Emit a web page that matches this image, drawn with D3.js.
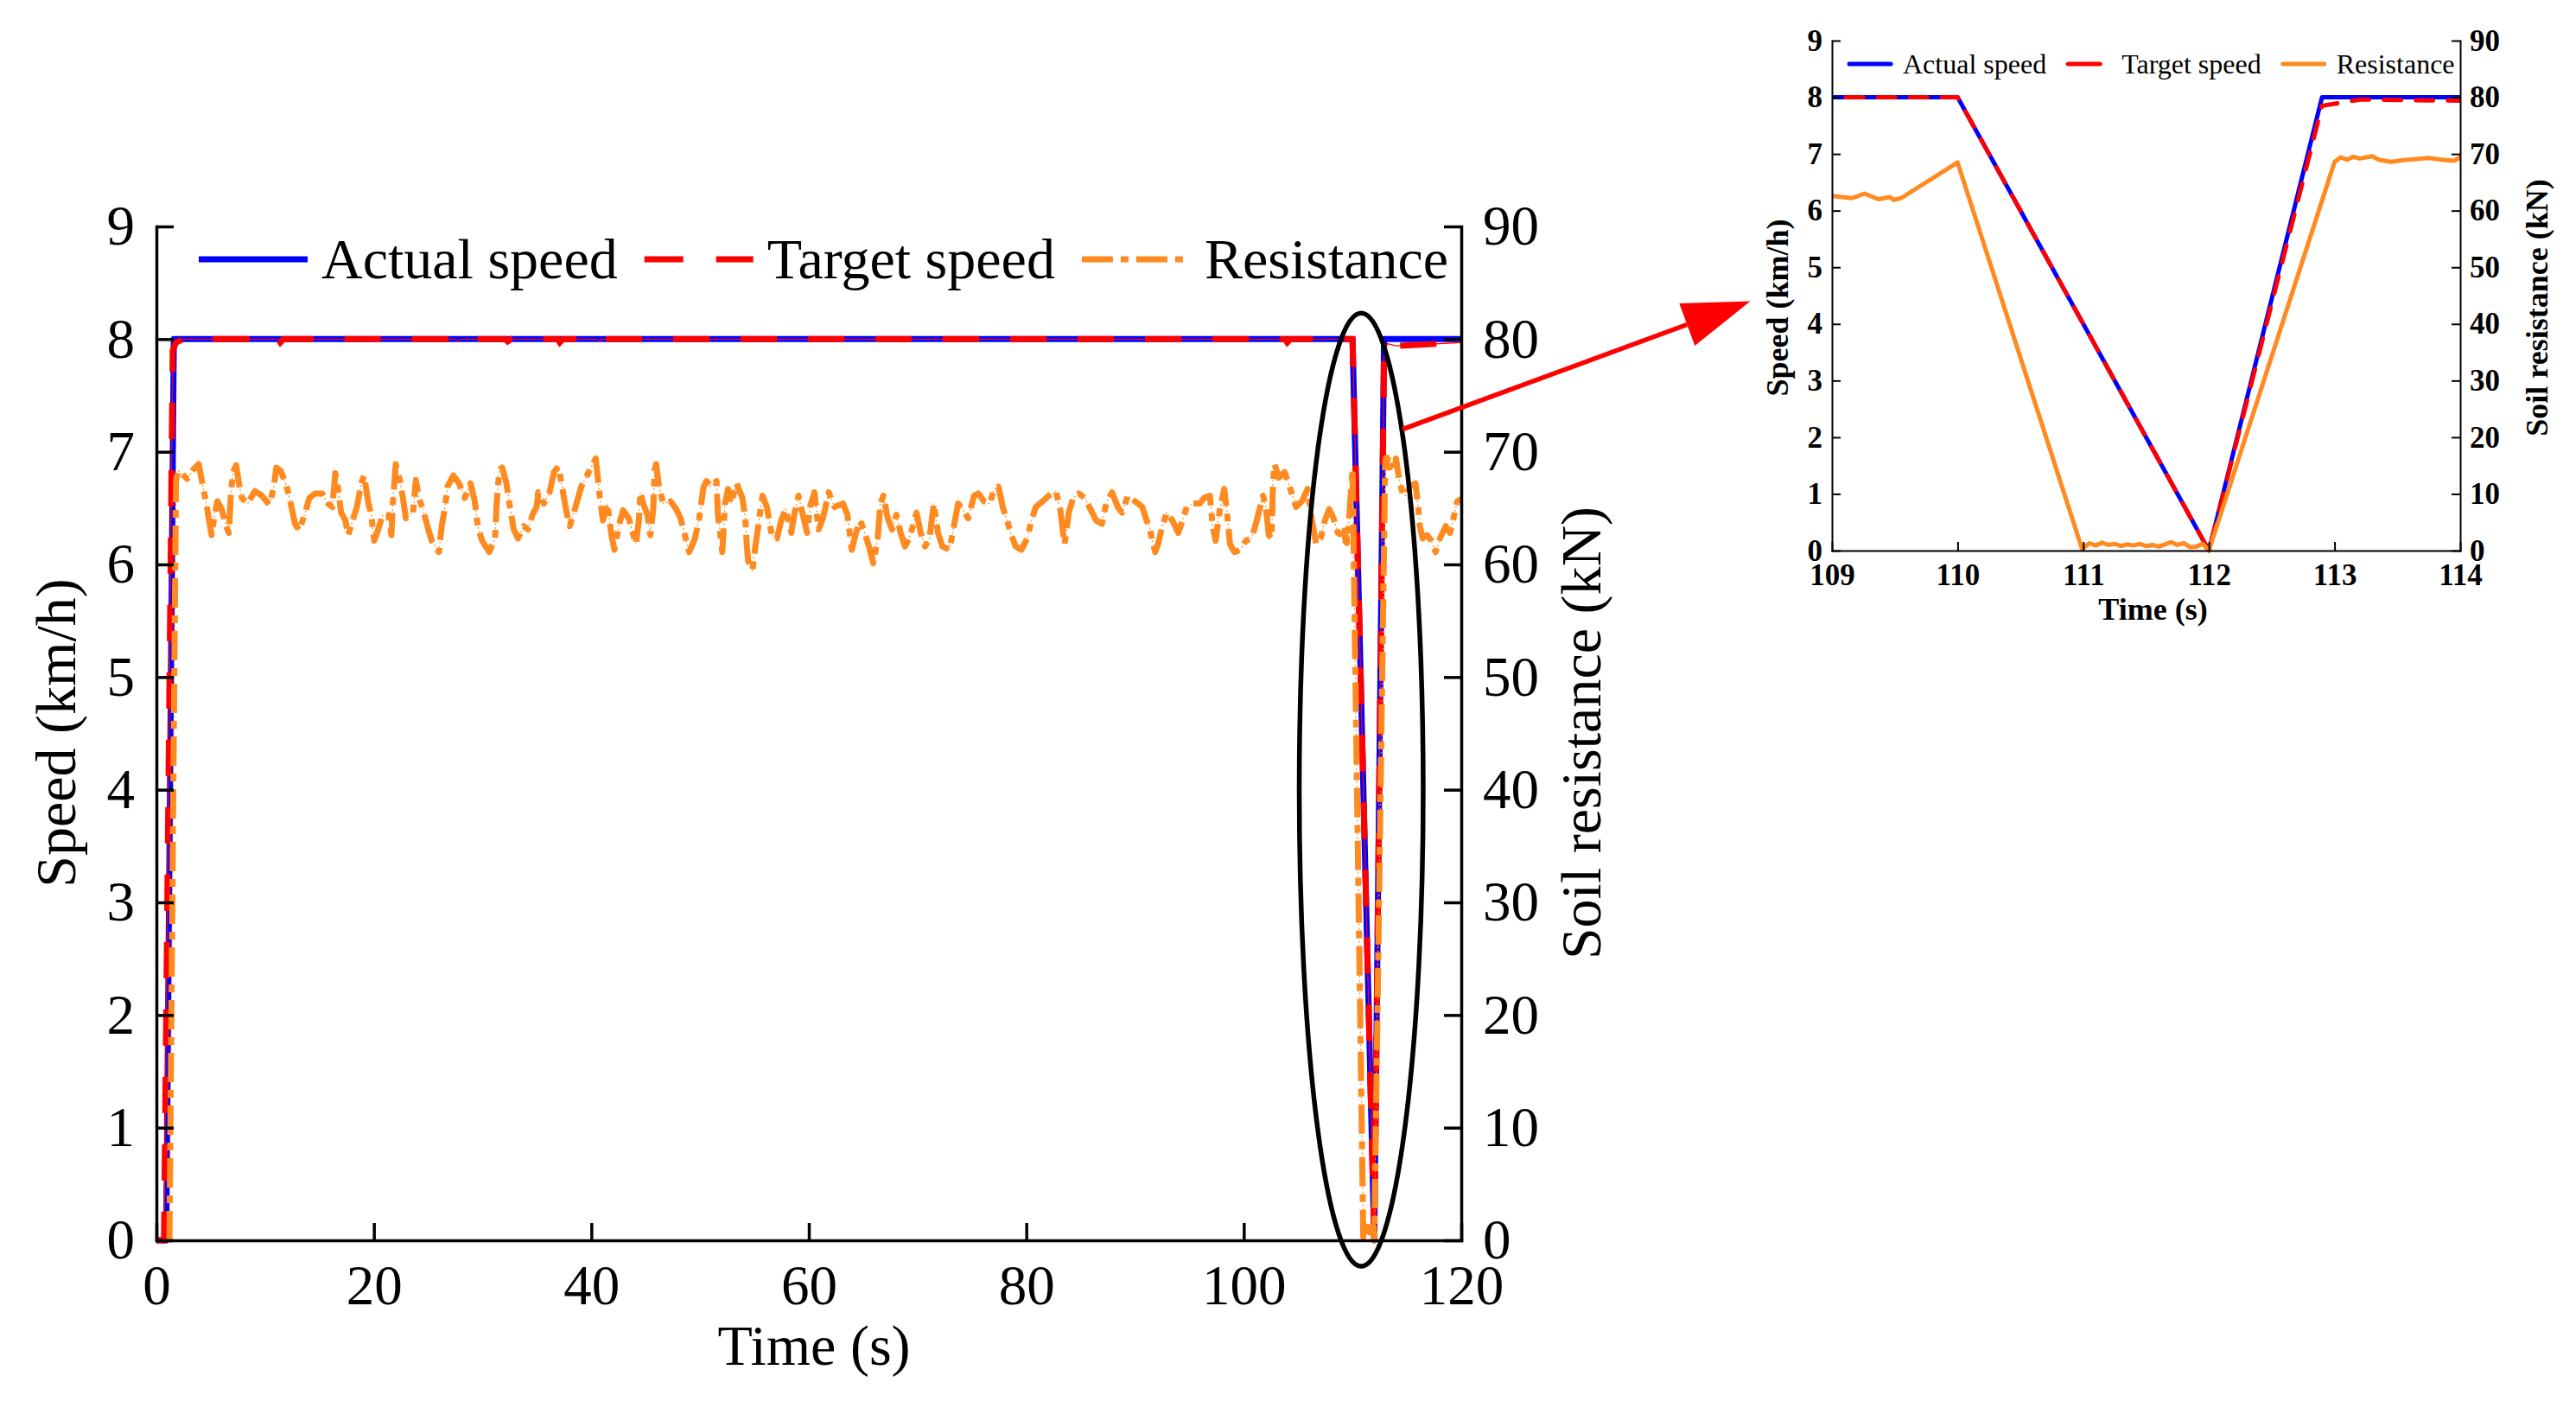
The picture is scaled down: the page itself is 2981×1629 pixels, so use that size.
<!DOCTYPE html>
<html>
<head>
<meta charset="utf-8">
<script src="https://cdn.jsdelivr.net/npm/d3@7"></script>
<style>
  body { margin: 0; background: #fff; }
  svg { display: block; }
  text { font-family: "Liberation Serif", "Times New Roman", serif; fill: #000; }
</style>
</head>
<body>
<svg id="chart"></svg>
<script>
// --- data: [time (s), value] ---
const actualSpeed = [
  [0, 0], [0.9, 0], [1.6, 8], [110, 8], [111.97, 0.12], [112, 0], [112.9, 8], [120, 8]
];

const targetSpeed = [
  [0, 0], [0.7, 0], [1.5, 7.9], [1.8, 7.97], [2.5, 8], [11.2, 8], [11.4, 7.97], [11.7, 8],
  [27.5, 8], [27.7, 7.98], [28, 8], [32.1, 8], [32.3, 7.98], [32.6, 8], [36.9, 8], [37.1, 7.97],
  [37.4, 8], [40.5, 8], [40.7, 7.98], [41, 8], [103.8, 8], [104, 7.97], [104.3, 8], [110, 8],
  [112, 0], [112.9, 7.85], [113.2, 7.96], [114, 7.94], [120, 7.97]
];

const resistance = [
  [1.2, 0], [1.8, 67.5], [2.04, 68.3], [2.83, 67.6], [3.36, 68.4], [3.89, 68.9], [4.29, 66.9], [4.55, 65.6],
  [4.81, 64.1], [5.08, 62.6], [5.34, 64.4], [5.61, 65.6], [6.0, 64.9], [6.4, 63.4], [6.67, 62.8], [6.85, 66.4],
  [7.06, 68.2], [7.33, 68.8], [7.59, 67.2], [7.86, 65.9], [8.39, 65.4], [9.05, 66.5], [9.71, 66.1], [10.37, 65.3],
  [10.77, 66.7], [11.03, 68.6], [11.43, 68.3], [11.96, 67.0], [12.35, 65.4], [12.75, 63.6], [13.15, 63.0], [13.68, 64.6],
  [14.07, 65.9], [14.6, 66.3], [15.26, 66.3], [15.79, 65.4], [16.19, 65.1], [16.45, 68.1], [16.72, 66.7], [16.98, 64.6],
  [17.38, 63.9], [17.64, 62.6], [18.04, 63.9], [18.44, 65.1], [18.84, 67.2], [19.1, 67.9], [19.5, 65.4], [19.76, 64.4],
  [20.03, 62.1], [20.29, 62.8], [20.82, 64.4], [21.35, 64.4], [21.61, 62.6], [21.74, 65.4], [22.01, 68.9], [22.41, 67.4],
  [22.67, 65.9], [22.94, 64.1], [23.33, 64.4], [23.6, 64.6], [23.86, 67.5], [24.13, 65.9], [24.52, 64.9], [24.92, 63.4],
  [25.32, 62.1], [25.98, 61.1], [26.24, 63.4], [26.51, 64.9], [26.77, 66.9], [27.3, 67.9], [27.83, 67.2], [28.36, 65.9],
  [28.89, 67.2], [29.28, 65.6], [29.55, 63.4], [29.95, 62.1], [30.61, 61.1], [31.14, 62.3], [31.27, 65.1], [31.53, 68.4],
  [31.8, 68.6], [32.19, 67.2], [32.46, 65.4], [32.86, 63.1], [33.25, 62.3], [33.78, 63.4], [34.18, 63.1], [34.58, 64.4],
  [34.97, 65.1], [35.11, 66.4], [35.63, 65.4], [36.16, 66.4], [36.56, 68.2], [36.96, 68.7], [37.35, 66.7], [37.62, 65.1],
  [38.01, 63.4], [38.54, 65.1], [39.07, 66.9], [39.6, 67.9], [40.13, 68.9], [40.4, 69.4], [40.79, 65.9], [41.06, 63.9],
  [41.46, 65.4], [41.85, 62.6], [42.12, 61.3], [42.52, 63.4], [42.91, 64.8], [43.44, 64.1], [44.1, 61.8], [44.37, 63.9],
  [44.5, 66.4], [44.77, 65.4], [45.16, 64.4], [45.43, 62.6], [45.69, 64.9], [45.82, 68.4], [45.96, 68.9], [46.22, 66.9],
  [46.62, 65.4], [47.28, 65.6], [47.81, 64.9], [48.2, 64.1], [48.6, 62.6], [49.0, 61.1], [49.53, 62.3], [49.92, 64.1],
  [50.32, 66.9], [50.59, 67.4], [50.98, 66.9], [51.51, 67.4], [51.64, 64.4], [51.91, 62.3], [52.04, 61.1], [52.3, 65.4],
  [52.57, 66.7], [52.83, 65.4], [53.36, 67.2], [53.89, 65.9], [54.16, 64.1], [54.29, 61.8], [54.42, 60.3], [54.82, 59.5],
  [55.08, 61.6], [55.35, 63.4], [55.74, 66.1], [56.14, 65.1], [56.4, 63.6], [56.67, 62.3], [57.07, 62.3], [57.46, 63.9],
  [57.86, 64.9], [58.39, 62.8], [58.65, 64.4], [59.05, 66.1], [59.45, 64.4], [59.84, 62.8], [60.11, 65.1], [60.51, 66.4],
  [60.9, 63.1], [61.3, 64.1], [61.83, 66.4], [62.36, 65.1], [63.15, 65.4], [63.55, 64.4], [63.95, 61.3], [64.34, 62.8],
  [64.74, 63.9], [65.14, 62.8], [65.53, 61.6], [65.93, 60.1], [66.33, 62.3], [66.59, 65.4], [66.86, 66.1], [67.25, 64.1],
  [67.65, 63.1], [68.05, 64.4], [68.44, 62.8], [68.84, 61.6], [69.24, 62.3], [69.63, 63.6], [69.9, 64.6], [70.29, 62.8],
  [70.69, 61.6], [71.09, 62.3], [71.49, 65.4], [71.88, 62.8], [72.28, 61.6], [72.94, 61.3], [73.34, 63.4], [73.73, 65.4],
  [74.13, 64.9], [74.66, 64.1], [75.19, 66.1], [75.59, 66.3], [76.11, 65.6], [76.64, 65.4], [77.04, 66.7], [77.44, 66.9],
  [77.83, 65.1], [78.23, 63.9], [78.63, 62.6], [79.02, 61.6], [79.55, 61.3], [80.08, 62.3], [80.48, 63.9], [80.87, 65.1],
  [81.5, 65.6], [82.06, 66.1], [82.72, 66.5], [83.12, 64.9], [83.38, 62.8], [83.52, 61.8], [83.91, 64.6], [84.31, 65.9],
  [84.84, 66.3], [85.37, 65.9], [85.9, 64.9], [86.43, 63.9], [86.95, 63.6], [87.35, 65.4], [87.88, 66.4], [88.41, 65.1],
  [88.81, 64.6], [89.34, 66.1], [90.0, 65.6], [90.66, 65.1], [91.06, 63.9], [91.32, 63.4], [91.58, 62.1], [91.85, 61.1],
  [92.11, 61.8], [92.51, 63.4], [92.91, 64.6], [93.44, 63.9], [93.97, 62.8], [94.36, 63.9], [94.76, 65.1], [95.29, 65.4],
  [95.95, 65.4], [96.35, 65.9], [96.88, 66.1], [97.14, 63.4], [97.41, 62.1], [97.8, 64.9], [98.2, 66.7], [98.46, 64.6],
  [98.73, 61.8], [99.13, 61.1], [99.66, 61.3], [100.18, 62.1], [100.71, 62.3], [101.11, 63.6], [101.77, 66.1], [102.03, 65.1],
  [102.3, 62.6], [102.56, 62.3], [102.69, 67.4], [102.83, 68.9], [103.22, 67.7], [103.75, 68.2], [104.28, 66.7], [104.81, 65.1],
  [105.34, 65.6], [105.87, 66.7], [106.27, 63.9], [106.66, 61.8], [107.06, 62.3], [107.46, 63.9], [107.85, 64.9], [108.25, 64.1],
  [108.65, 62.8], [109.0, 62.6], [109.16, 62.2], [109.26, 63.0], [109.37, 62.0], [109.46, 62.4], [109.49, 61.9], [109.55, 62.2],
  [110.0, 68.5], [110.99, 0.3], [111.05, 1.3], [111.1, 0.9], [111.15, 1.4], [111.2, 1.0], [111.25, 1.2], [111.3, 0.8],
  [111.35, 1.1], [111.4, 0.9], [111.45, 1.2], [111.5, 0.8], [111.55, 1.0], [111.6, 0.7], [111.65, 1.1], [111.7, 1.5],
  [111.75, 1.0], [111.8, 1.3], [111.85, 0.6], [111.9, 0.7], [111.95, 1.2], [112.0, 0.0], [113.0, 68.6], [113.05, 69.4],
  [113.1, 69.0], [113.15, 69.5], [113.2, 69.2], [113.3, 69.6], [113.35, 69.0], [113.45, 68.6], [113.55, 68.9], [113.65, 69.1],
  [113.75, 69.3], [113.85, 69.0], [113.95, 68.8], [114.0, 69.4], [114.3, 67.5], [114.6, 66.3], [114.87, 66.1], [115.26, 66.9],
  [115.79, 67.2], [116.06, 64.9], [116.19, 63.4], [116.45, 62.3], [116.85, 62.6], [117.25, 62.1], [117.64, 61.1], [118.04, 62.3],
  [118.57, 63.4], [118.97, 62.8], [119.36, 64.4], [119.63, 65.6], [120, 65.8]
];

const seriesNames = ["Actual speed", "Target speed", "Resistance"];
const seriesColors = ["#0000ff", "#ff0000", "#ff8a20"];

const mainTimeTicks = [0, 20, 40, 60, 80, 100, 120];
const insetTimeTicks = [109, 110, 111, 112, 113, 114];
const speedTicks = [0, 1, 2, 3, 4, 5, 6, 7, 8, 9];
const resistanceTicks = [0, 10, 20, 30, 40, 50, 60, 70, 80, 90];

// zoom marker: ellipse centre/radii in main-chart units, arrow ends
const zoomEllipse = { t: 110.8, v: 4.0, rt: 5.7, rv: 4.23 };
const arrowFrom = [114.6, 7.2];   // main chart (s, km/h)
const arrowTo = [108.35, 4.4];    // inset chart (s, km/h)

const W = 2981, H = 1629;
const FONT = '"Liberation Serif", "Times New Roman", serif';

const svg = d3.select("#chart").attr("width", W).attr("height", H);
svg.append("rect").attr("width", W).attr("height", H).attr("fill", "#fff");

function drawPanel(p) {
  const g = svg.append("g");
  const x = d3.scaleLinear().domain(p.xDomain).range([p.left, p.right]);
  const yL = d3.scaleLinear().domain([0, 9]).range([p.bottom, p.top]);
  const yR = d3.scaleLinear().domain([0, 90]).range([p.bottom, p.top]);
  const weight = p.bold ? "bold" : "normal";

  const clipId = "clip-" + p.id;
  g.append("clipPath").attr("id", clipId).append("rect")
    .attr("x", p.left).attr("y", p.top - 10)
    .attr("width", p.right - p.left).attr("height", p.bottom - p.top + 10 + p.lw);

  const plot = g.append("g").attr("clip-path", `url(#${clipId})`);
  const speedLine = d3.line().x(d => x(d[0])).y(d => yL(d[1]));
  const resLine = d3.line().x(d => x(d[0])).y(d => yR(d[1]));

  plot.append("path").attr("d", speedLine(actualSpeed))
    .attr("fill", "none").attr("stroke", seriesColors[0]).attr("stroke-width", p.lw)
    .attr("stroke-linejoin", "round");
  if (p.thin) {
    plot.append("path").attr("d", speedLine(targetSpeed))
      .attr("fill", "none").attr("stroke", seriesColors[1]).attr("stroke-width", 1.3);
  }
  plot.append("path").attr("d", speedLine(targetSpeed))
    .attr("fill", "none").attr("stroke", seriesColors[1]).attr("stroke-width", p.lw)
    .attr("stroke-dasharray", p.redDash).attr("stroke-linecap", p.cap);
  if (p.thin) {
    plot.append("path").attr("d", resLine(resistance))
      .attr("fill", "none").attr("stroke", seriesColors[2]).attr("stroke-width", 1.2)
      .attr("stroke-dasharray", "2,3");
  }
  plot.append("path").attr("d", resLine(resistance))
    .attr("fill", "none").attr("stroke", seriesColors[2]).attr("stroke-width", p.lw)
    .attr("stroke-dasharray", p.resDash).attr("stroke-linecap", p.cap)
    .attr("stroke-linejoin", "round");

  // axes, ticks pointing inward
  const styleAxis = (sel) => {
    sel.select(".domain").attr("stroke", "#000").attr("stroke-width", p.axisW).attr("stroke-linecap", "square");
    sel.selectAll(".tick line").attr("stroke", "#000").attr("stroke-width", p.axisW);
    sel.selectAll(".tick text").attr("font-family", FONT).attr("font-size", p.tickFont)
      .attr("font-weight", weight).attr("fill", "#000");
  };

  g.append("g").attr("transform", `translate(0,${p.bottom})`)
    .call(d3.axisBottom(x).tickValues(p.xTicks).tickSize(-p.tick).tickSizeOuter(0)
      .tickPadding(p.xPad).tickFormat(d3.format("d")))
    .call(styleAxis);
  g.append("g").attr("transform", `translate(${p.left},0)`)
    .call(d3.axisLeft(yL).tickValues(speedTicks).tickSize(-p.tick).tickSizeOuter(0)
      .tickPadding(p.yPad).tickFormat(d3.format("d")))
    .call(styleAxis);
  g.append("g").attr("transform", `translate(${p.right},0)`)
    .call(d3.axisRight(yR).tickValues(resistanceTicks).tickSize(-p.tick).tickSizeOuter(0)
      .tickPadding(p.yPad).tickFormat(d3.format("d")))
    .call(styleAxis);

  // axis titles
  g.append("text").attr("x", (p.left + p.right) / 2 + p.xTitleDx).attr("y", p.bottom + p.xTitleDy)
    .attr("text-anchor", "middle").attr("font-size", p.titleFont).attr("font-weight", weight)
    .text("Time (s)");
  g.append("text").attr("transform", `translate(${p.leftTitleX},${p.titleY}) rotate(-90)`)
    .attr("text-anchor", "middle").attr("font-size", p.titleFont).attr("font-weight", weight)
    .text("Speed (km/h)");
  g.append("text").attr("transform", `translate(${p.rightTitleX},${p.titleY}) rotate(-90)`)
    .attr("text-anchor", "middle").attr("font-size", p.titleFont).attr("font-weight", weight)
    .text("Soil resistance (kN)");

  // legend, laid out left to right
  let lx = p.legendX;
  seriesNames.forEach((name, i) => {
    g.append("line").attr("x1", lx).attr("x2", lx + p.legendLine)
      .attr("y1", p.legendY).attr("y2", p.legendY)
      .attr("stroke", seriesColors[i]).attr("stroke-width", p.lw)
      .attr("stroke-linecap", p.cap)
      .attr("stroke-dasharray", p.legendDash[i]);
    const t = g.append("text").attr("x", lx + p.legendLine + p.legendTextGap)
      .attr("y", p.legendY + p.legendBaseline).attr("font-size", p.legendFont).text(name);
    lx += p.legendLine + p.legendTextGap + t.node().getComputedTextLength() + p.legendItemGap;
  });

  return { x, yL, yR };
}

const main = drawPanel({
  id: "main", left: 181, right: 1691, top: 262, bottom: 1435,
  xDomain: [0, 120], xTicks: mainTimeTicks, bold: false,
  lw: 7, axisW: 3.5, tick: 20, cap: "butt", thin: true,
  redDash: "42,36", resDash: "34,9,9,9",
  tickFont: 65, xPad: 28, yPad: 25,
  titleFont: 66, xTitleDx: 6, xTitleDy: 144, titleY: 848, leftTitleX: 87, rightTitleX: 1852,
  legendX: 230, legendY: 300, legendLine: 126, legendTextGap: 16, legendItemGap: 31,
  legendBaseline: 22, legendFont: 66,
  legendDash: [null, "45,38", "36,9,9,9"]
});

const inset = drawPanel({
  id: "inset", left: 2120, right: 2847, top: 47, bottom: 637,
  xDomain: [109, 114], xTicks: insetTimeTicks, bold: true,
  lw: 5, axisW: 2, tick: 10, cap: "round", thin: false,
  redDash: "20,17", resDash: null,
  tickFont: 35, xPad: 15, yPad: 11,
  titleFont: 36, xTitleDx: 8, xTitleDy: 80, titleY: 356, leftTitleX: 2069, rightTitleX: 2948,
  legendX: 2140, legendY: 74, legendLine: 48, legendTextGap: 14, legendItemGap: 25,
  legendBaseline: 11, legendFont: 32,
  legendDash: [null, "37,40", null]
});

// ellipse around the stop/restart in the main chart
const ex = main.x(zoomEllipse.t), ey = main.yL(zoomEllipse.v);
svg.append("ellipse").attr("cx", ex).attr("cy", ey)
  .attr("rx", main.x(zoomEllipse.t + zoomEllipse.rt) - ex)
  .attr("ry", main.yL(zoomEllipse.v - zoomEllipse.rv) - ey)
  .attr("fill", "none").attr("stroke", "#000").attr("stroke-width", 5.5);

// red arrow pointing to the inset
const a0 = [main.x(arrowFrom[0]), main.yL(arrowFrom[1])];
const a1 = [inset.x(arrowTo[0]), inset.yL(arrowTo[1])];
const ang = Math.atan2(a1[1] - a0[1], a1[0] - a0[0]);
const headL = 78, headW = 26;
const base = [a1[0] - headL * Math.cos(ang), a1[1] - headL * Math.sin(ang)];
svg.append("line").attr("x1", a0[0]).attr("y1", a0[1]).attr("x2", base[0]).attr("y2", base[1])
  .attr("stroke", "#ff0000").attr("stroke-width", 5.5);
svg.append("path")
  .attr("d", d3.line()([
    a1,
    [base[0] + headW * Math.sin(ang), base[1] - headW * Math.cos(ang)],
    [base[0] - headW * Math.sin(ang), base[1] + headW * Math.cos(ang)]
  ]) + "Z")
  .attr("fill", "#ff0000");
</script>
</body>
</html>
